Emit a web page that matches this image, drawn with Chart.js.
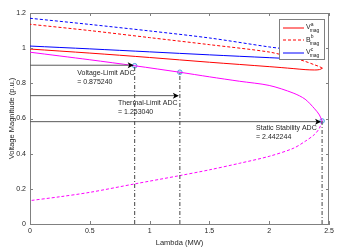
<!DOCTYPE html>
<html>
<head>
<meta charset="utf-8">
<script src="https://cdn.jsdelivr.net/npm/chart.js@4"></script>
<style>
  html, body { margin: 0; padding: 0; background: #fff; }
</style>
</head>
<body>
<canvas id="pvChart" width="346" height="247"></canvas>
<script>
// Axis ticks
const xTicks = [0, 0.5, 1, 1.5, 2, 2.5];
const yTicks = [0, 0.2, 0.4, 0.6, 0.8, 1, 1.2];

// Phase a (red): stable branch and return branch
const lambdaA = [0, 0.5, 1.0, 1.5, 2.0, 2.2, 2.3, 2.38, 2.42, 2.445];
const vMagA = [0.995, 0.972, 0.947, 0.92, 0.895, 0.884, 0.878, 0.876, 0.878, 0.886];
const lambdaB = [2.445, 2.42, 2.38, 2.3, 2.2, 2.0, 1.5, 1.0, 0.5, 0];
const vMagB = [0.886, 0.895, 0.905, 0.925, 0.945, 0.978, 1.02, 1.06, 1.1, 1.136];

// Phase c (blue): solid and dashed
const lambdaC = [0, 0.5, 1.0, 1.5, 2.0, 2.2, 2.4];
const vMagC = [1.012, 0.996, 0.979, 0.962, 0.946, 0.94, 0.935];
const lambdaD = [0, 0.5, 1.0, 1.5, 2.0, 2.2, 2.4];
const vMagD = [1.17, 1.135, 1.098, 1.058, 1.007, 0.99, 0.97];

// Magenta PV nose curve
const lambdaUpper = [0, 0.5, 0.875, 1.253, 1.5, 1.75, 2.0, 2.2, 2.3, 2.38, 2.42, 2.442];
const vUpper = [0.977, 0.934, 0.9, 0.863, 0.837, 0.812, 0.788, 0.745, 0.71, 0.655, 0.62, 0.586];
const lambdaLower = [2.442, 2.42, 2.38, 2.3, 2.2, 2.0, 1.75, 1.5, 1.25, 0.875, 0.5, 0.25, 0];
const vLower = [0.586, 0.545, 0.51, 0.47, 0.43, 0.385, 0.345, 0.308, 0.275, 0.228, 0.18, 0.155, 0.133];

// ADC annotations
const adcLambda = [0.875240, 1.253040, 2.442244];
const adcVoltage = [0.9, 0.863, 0.586];
const arrowLevel = [0.903, 0.73, 0.582];
const adcTitles = ['Voltage-Limit ADC', 'Thermal-Limit ADC', 'Static Stability ADC'];
const adcValues = ['= 0.875240', '= 1.253040', '= 2.442244'];
const labelLambda = [0.395, 0.736, 1.89];
const labelVoltage = [0.859, 0.688, 0.546];

const FONT = "'Liberation Sans', Arial, sans-serif";
const pts = (xs, ys) => xs.map((x, i) => ({ x: x, y: ys[i] }));

function curve(data, color, dashed) {
    return {
        data: data,
        showLine: true,
        borderColor: color,
        borderWidth: 1,
        borderDash: dashed ? [3, 2] : [],
        pointRadius: 0,
        tension: 0.3,
        fill: false
    };
}

const datasets = [];
// horizontal arrow lines and vertical drop lines
adcLambda.forEach((l, i) => {
    datasets.push({
        data: [{ x: 0, y: arrowLevel[i] }, { x: l - 0.02, y: arrowLevel[i] }],
        showLine: true, borderColor: '#5a5a5a', borderWidth: 1, pointRadius: 0
    });
    datasets.push({
        data: [{ x: l, y: 0 }, { x: l, y: adcVoltage[i] }],
        showLine: true, borderColor: '#444', borderWidth: 1, pointRadius: 0,
        borderDash: [4, 2, 1, 2]
    });
});
datasets.push(curve(pts(lambdaD, vMagD), '#0000ff', true));
datasets.push(curve(pts(lambdaB, vMagB), '#ff0000', true));
datasets.push(curve(pts(lambdaC, vMagC), '#0000ff', false));
datasets.push(curve(pts(lambdaA, vMagA), '#ff0000', false));
datasets.push(curve(pts(lambdaLower, vLower), '#ff00ff', true));
datasets.push(curve(pts(lambdaUpper, vUpper), '#ff00ff', false));
datasets.push({
    data: pts(adcLambda, adcVoltage),
    showLine: false,
    pointRadius: 2.3,
    pointBorderWidth: 1,
    pointBorderColor: '#4fa3e0',
    pointBackgroundColor: '#d6ecff'
});

// inward ticks, top/right box, arrowheads, text and legend
const decor = {
    id: 'decor',
    afterDatasetsDraw(chart) {
        const c = chart.ctx;
        const xs = chart.scales.x, ys = chart.scales.y;
        const a = chart.chartArea;
        c.save();
        c.strokeStyle = '#808080';
        c.lineWidth = 1;
        c.beginPath();
        c.moveTo(a.left, a.top + 0.5); c.lineTo(a.right, a.top + 0.5);
        c.moveTo(a.right - 0.5, a.top); c.lineTo(a.right - 0.5, a.bottom);
        xTicks.forEach(t => {
            const px = Math.round(xs.getPixelForValue(t)) + 0.5;
            c.moveTo(px, a.bottom); c.lineTo(px, a.bottom - 3);
            c.moveTo(px, a.top); c.lineTo(px, a.top + 3);
        });
        yTicks.forEach(t => {
            const py = Math.round(ys.getPixelForValue(t)) + 0.5;
            c.moveTo(a.left, py); c.lineTo(a.left + 3, py);
            c.moveTo(a.right, py); c.lineTo(a.right - 3, py);
        });
        c.stroke();

        // arrowheads
        c.fillStyle = '#000';
        adcLambda.forEach((l, i) => {
            const px = xs.getPixelForValue(l) - 1;
            const py = ys.getPixelForValue(arrowLevel[i]);
            c.beginPath();
            c.moveTo(px, py);
            c.lineTo(px - 6, py - 3);
            c.lineTo(px - 4.5, py);
            c.lineTo(px - 6, py + 3);
            c.closePath();
            c.fill();
        });

        // annotation text
        c.fillStyle = '#262626';
        c.font = '7px ' + FONT;
        c.textBaseline = 'middle';
        c.textAlign = 'left';
        adcTitles.forEach((t, i) => {
            const px = xs.getPixelForValue(labelLambda[i]);
            const py = ys.getPixelForValue(labelVoltage[i]);
            c.fillText(t, px, py);
            c.fillText(adcValues[i], px, py + 9);
        });

        // legend
        const bx = Math.round(a.right - 50), by = Math.round(a.top + 6), bw = 45, bh = 40;
        c.fillStyle = '#fff';
        c.fillRect(bx, by, bw, bh);
        c.strokeStyle = '#808080';
        c.strokeRect(bx + 0.5, by + 0.5, bw, bh);
        const entries = [
            { color: '#ff0000', dash: [], main: 'V', sup: 'a' },
            { color: '#ff0000', dash: [3, 2], main: 'B', sup: 'b' },
            { color: '#0000ff', dash: [], main: 'V', sup: 'c' }
        ];
        entries.forEach((e, i) => {
            const ly = by + 8.5 + i * 12.5;
            const lineY = Math.round(ly);
            c.strokeStyle = e.color;
            c.setLineDash(e.dash);
            c.beginPath();
            c.moveTo(bx + 4, lineY); c.lineTo(bx + 25, lineY);
            c.stroke();
            c.setLineDash([]);
            c.fillStyle = '#262626';
            c.font = '7px ' + FONT;
            c.fillText(e.main, bx + 27, ly);
            const w = c.measureText(e.main).width;
            c.font = '5px ' + FONT;
            c.fillText(e.sup, bx + 27 + w, ly - 3);
            c.fillText('mag', bx + 27 + w - 1, ly + 3.5);
        });
        c.restore();
    }
};

const ctx = document.getElementById('pvChart').getContext('2d');

const pvChart = new Chart(ctx, {
    type: 'scatter',
    data: { datasets: datasets },
    options: {
        responsive: false,
        animation: false,
        devicePixelRatio: 1,
        layout: { padding: { left: 0, right: 17, top: 13, bottom: 0 } },
        plugins: {
            legend: { display: false },
            tooltip: { enabled: false }
        },
        scales: {
            x: {
                type: 'linear',
                min: 0, max: 2.5,
                afterBuildTicks: s => { s.ticks = xTicks.map(v => ({ value: v })); },
                afterFit: s => { s.height = 23; },
                grid: { display: true, drawOnChartArea: false, drawTicks: false },
                border: { display: true, color: '#808080' },
                ticks: {
                    padding: 3,
                    color: '#262626',
                    font: { family: FONT, size: 7 },
                    maxRotation: 0,
                    callback: v => String(v)
                },
                title: {
                    display: true,
                    text: 'Lambda (MW)',
                    color: '#262626',
                    font: { family: FONT, size: 7.5 },
                    padding: { top: 0, bottom: 0 }
                }
            },
            y: {
                type: 'linear',
                min: 0, max: 1.2,
                afterBuildTicks: s => { s.ticks = yTicks.map(v => ({ value: v })); },
                afterFit: s => { s.width = 30; },
                grid: { display: true, drawOnChartArea: false, drawTicks: false },
                border: { display: true, color: '#808080' },
                ticks: {
                    padding: 4,
                    color: '#262626',
                    font: { family: FONT, size: 7 },
                    callback: v => String(Math.round(v * 10) / 10)
                },
                title: {
                    display: true,
                    text: 'Voltage Magnitude (p.u.)',
                    color: '#262626',
                    font: { family: FONT, size: 7.5 },
                    padding: { top: 7, bottom: 0 }
                }
            }
        }
    },
    plugins: [decor]
});
</script>
</body>
</html>
